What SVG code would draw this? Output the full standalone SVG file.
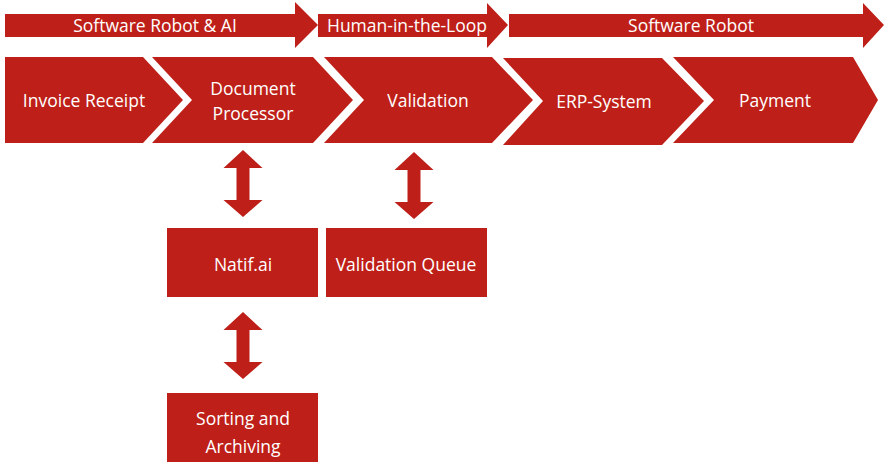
<svg xmlns="http://www.w3.org/2000/svg" width="885" height="462" viewBox="0 0 885 462">
  <style>
    .shape { fill: #BE2019; }
    .label { fill: #FFFFFF; font-family: "Open Sans", "Liberation Sans", sans-serif; font-size: 17.5px; text-anchor: middle; dominant-baseline: central; }
  </style>
  <defs>
    <!-- double-headed vertical arrow, centred on x=0, spanning y=0..67 -->
    <path id="dbl" d="M0,0 L19.5,18 L6.5,18 L6.5,50 L19.5,50 L0,67 L-19.5,50 L-6.5,50 L-6.5,18 L-19.5,18 Z"/>
  </defs>
  <rect width="885" height="462" fill="#FFFFFF"/>

  <!-- phase banners -->
  <g id="phase-robot-ai">
    <polygon class="shape" points="5,14 295,14 295,2 318,25 295,48 295,37 5,37"/>
    <text class="label" x="155" y="25">Software Robot &amp; AI</text>
  </g>
  <g id="phase-human">
    <polygon class="shape" points="318,14 487,14 487,3 508,25 487,48 487,37 318,37"/>
    <text class="label" x="407" y="25">Human-in-the-Loop</text>
  </g>
  <g id="phase-robot">
    <polygon class="shape" points="509,14 863,14 863,3 884,25 863,48 863,37 509,37"/>
    <text class="label" x="691" y="25">Software Robot</text>
  </g>

  <!-- process steps -->
  <g id="invoice-receipt">
    <polygon class="shape" points="5,57 143,57 183,100 143,143 5,143"/>
    <text class="label" x="84" y="100">Invoice Receipt</text>
  </g>
  <g id="document-processor">
    <polygon class="shape" points="152,57 313,57 353,100 313,143 152,143 192,100"/>
    <text class="label" x="253" y="88">Document</text>
    <text class="label" x="253" y="113">Processor</text>
  </g>
  <g id="validation">
    <polygon class="shape" points="324,57 492,57 533,100 492,143 324,143 364,100"/>
    <text class="label" x="428" y="100">Validation</text>
  </g>
  <g id="erp-system">
    <polygon class="shape" points="503,58 662,58 704,101 662,145 503,145 543,101"/>
    <text class="label" x="604" y="101">ERP-System</text>
  </g>
  <g id="payment">
    <polygon class="shape" points="673,57 853,57 878,100 853,143 673,143 714,100"/>
    <text class="label" x="775" y="100">Payment</text>
  </g>

  <!-- service boxes -->
  <g id="natif-ai">
    <rect class="shape" x="167" y="228" width="151" height="69"/>
    <text class="label" x="243" y="264">Natif.ai</text>
  </g>
  <g id="validation-queue">
    <rect class="shape" x="326" y="228" width="161" height="69"/>
    <text class="label" x="406" y="264">Validation Queue</text>
  </g>
  <g id="sorting-archiving">
    <rect class="shape" x="167" y="393" width="151" height="69"/>
    <text class="label" x="243" y="418">Sorting and</text>
    <text class="label" x="243" y="446">Archiving</text>
  </g>

  <!-- connectors -->
  <g id="connectors" class="shape">
    <use href="#dbl" x="243" y="150"/>
    <use href="#dbl" x="414" y="152"/>
    <use href="#dbl" x="243" y="312"/>
  </g>
</svg>
